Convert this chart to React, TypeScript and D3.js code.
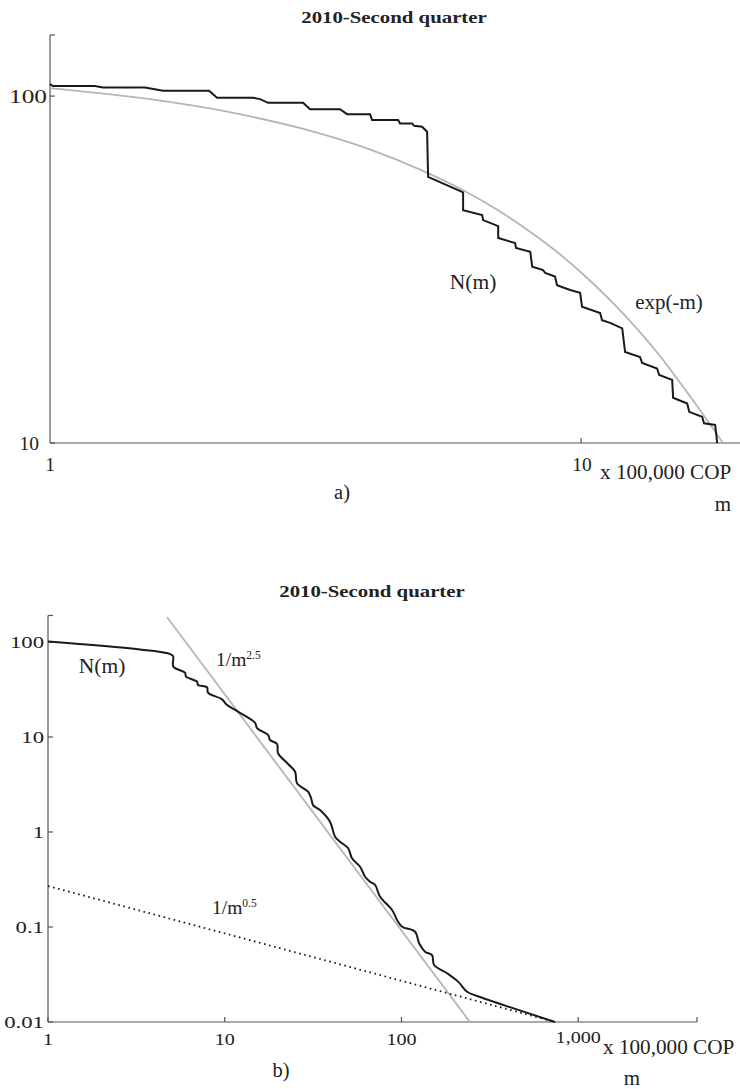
import * as d3 from 'd3';

const FONT = '"Liberation Serif", "Times New Roman", serif';
const W = 740;
const H = 1089;

// panel a) — cumulative count N(m), stepped empirical curve
const stepAM = [1, 1.013, 1.215, 1.258, 1.51, 1.632, 1.993, 2.063, 2.412, 2.486, 2.574, 2.996, 3.088, 3.516, 3.625, 4.005, 4.041, 4.523, 4.562, 4.806, 4.848, 5.018, 5.129, 5.151, 5.995, 5.995, 6.512, 6.539, 6.98, 6.98, 7.51, 7.54, 8.02, 8.09, 8.48, 8.56, 8.93, 9.01, 9.535, 9.957, 10.04, 10.86, 10.95, 11.34, 11.95, 12.1, 12.91, 13.03, 13.9, 14.03, 14.84, 14.9, 15.84, 15.98, 16.9, 17.04, 17.88, 18.04];
const stepAN = [108.3, 106.9, 106.9, 105.9, 105.9, 103.6, 103.6, 98.9, 98.9, 98.0, 95.6, 95.6, 91.7, 91.7, 88.7, 88.7, 85.3, 85.3, 83.4, 83.4, 82.1, 81.6, 78.9, 58.5, 52.8, 46.9, 45.4, 43.9, 42.2, 39.0, 37.7, 36.5, 35.6, 32.2, 31.5, 30.9, 30.2, 28.5, 27.6, 27.1, 24.7, 23.7, 22.6, 22.2, 21.4, 18.3, 17.7, 17.0, 16.4, 15.7, 15.2, 13.5, 13.0, 12.3, 11.9, 11.4, 11.27, 10.0];

// panel a) — exp(-m) reference curve
const expM = [1, 2, 3, 4, 5, 6, 7, 8, 9, 10, 12, 14, 16, 18.5];
const expN = [105.5, 92.1, 80.4, 70.2, 61.2, 53.5, 46.7, 40.7, 35.6, 31.0, 23.6, 18.0, 13.7, 10.0];

// panel b) — N(m) over the full range
const curveBM = [1, 3.23, 4.776, 5.097, 5.12, 5.96, 6.04, 6.97, 7.06, 7.94, 8.04, 9.65, 10.31, 11.89, 14.85, 15.23, 17.58, 18.05, 19.77, 20.03, 22.81, 25.0, 25.66, 29.6, 30.8, 31.6, 34.6, 39.4, 42.1, 44.9, 49.9, 52.5, 58.3, 62.2, 66.4, 70.9, 75.7, 88.5, 94.4, 100.8, 119.4, 125.8, 136.0, 149.0, 152.9, 181.2, 209.1, 235.1, 267.8, 740];
const curveBN = [101, 83.8, 76.0, 71.2, 55.0, 47.5, 43.1, 38.2, 35.3, 33.4, 29.3, 24.9, 21.7, 18.5, 14.1, 12.4, 10.5, 9.3, 8.44, 6.74, 5.2, 4.31, 3.26, 2.66, 2.28, 1.92, 1.7, 1.28, 0.892, 0.79, 0.674, 0.529, 0.431, 0.338, 0.3, 0.277, 0.208, 0.151, 0.1185, 0.1007, 0.0892, 0.0674, 0.055, 0.0507, 0.0398, 0.0326, 0.0266, 0.0208, 0.0188, 0.01];

// panel b) — power-law guide lines (end points)
const powA_M = [4.72, 244];
const powA_N = [182, 0.01];
const powB_M = [1, 740];
const powB_N = [0.27, 0.01];

const yTicksA = [100, 10];
const xTicksA = [1, 10];
const yTicksB = [100, 10, 1, 0.1, 0.01];
const yTickLabelsB = ['100', '10', '1', '0.1', '0.01'];
const xTicksB = [1, 10, 100, 1000];
const xTickLabelsB = ['1', '10', '100', '1,000'];

type Pt = [number, number];
const zip = (a: number[], b: number[]): Pt[] => a.map((v, i) => [v, b[i]]);

function T({ x, y, sx = 1, size, anchor = 'start', bold = false, children }: any) {
  return (
    <text
      transform={`translate(${x},${y}) scale(${sx},1)`}
      fontFamily={FONT}
      fontSize={size}
      fontWeight={bold ? 'bold' : 'normal'}
      textAnchor={anchor}
      fill="#222"
    >
      {children}
    </text>
  );
}

export default function App() {
  const xA = d3.scaleLog().domain([1, 20]).range([50, 741]);
  const yA = d3.scaleLog().domain([10, 150]).range([443, 35]);
  const xB = d3.scaleLog().domain([1, 4700]).range([48, 697]);
  const yB = d3.scaleLog().domain([0.01, 190]).range([1022, 615.5]);

  const lineA = d3.line<Pt>().x((d) => xA(d[0])).y((d) => yA(d[1]));
  const smoothA = d3.line<Pt>().x((d) => xA(d[0])).y((d) => yA(d[1])).curve(d3.curveMonotoneX);
  const lineB = d3.line<Pt>().x((d) => xB(d[0])).y((d) => yB(d[1]));
  const smoothB = d3.line<Pt>().x((d) => xB(d[0])).y((d) => yB(d[1])).curve(d3.curveCatmullRom.alpha(0.5));

  const axis = '#555';

  return (
    <svg width={W} height={H} style={{ position: 'absolute', left: 0, top: 0, background: '#fff' }}>
      {/* ---------- panel a ---------- */}
      <T x={394} y={23} size={17.5} sx={1.19} anchor="middle" bold>2010-Second quarter</T>

      <line x1={xA(1)} x2={741} y1={yA(10)} y2={yA(10)} stroke={axis} strokeWidth={1.2} />
      <line x1={xA(1)} x2={xA(1)} y1={yA(10)} y2={yA(150)} stroke={axis} strokeWidth={1.2} />
      {[...yTicksA, 150].map((t) => (
        <line key={t} x1={xA(1)} x2={xA(1) + 5} y1={yA(t)} y2={yA(t)} stroke={axis} strokeWidth={1.2} />
      ))}
      <line x1={xA(10)} x2={xA(10)} y1={yA(10)} y2={yA(10) - 5} stroke={axis} strokeWidth={1.2} />

      <T x={47} y={yA(100) + 7} size={19.5} sx={1.3} anchor="end">100</T>
      <T x={39} y={yA(10) + 7} size={19.5} anchor="end">10</T>
      {xTicksA.map((t) => (
        <T key={t} x={xA(t) + (t === 10 ? 1 : 0)} y={471} size={19.5} anchor="middle">{String(t)}</T>
      ))}
      <T x={600} y={479} size={21.2}>x 100,000 COP</T>
      <T x={723} y={511} size={21} anchor="middle">m</T>
      <T x={342} y={499} size={20.5} anchor="middle">a)</T>

      <path d={smoothA(zip(expM, expN)) ?? ''} fill="none" stroke="#b5b5b5" strokeWidth={1.8} />
      <path d={lineA(zip(stepAM, stepAN)) ?? ''} fill="none" stroke="#1a1a1a" strokeWidth={2} />

      <T x={473} y={289} size={21.5} anchor="middle">N(m)</T>
      <T x={669} y={309} size={21} anchor="middle">exp(-m)</T>

      {/* ---------- panel b ---------- */}
      <T x={372} y={597} size={17.5} sx={1.19} anchor="middle" bold>2010-Second quarter</T>

      <line x1={xB(1)} x2={xB(4700)} y1={yB(0.01)} y2={yB(0.01)} stroke={axis} strokeWidth={1.2} />
      <line x1={xB(1)} x2={xB(1)} y1={yB(0.01)} y2={yB(190)} stroke={axis} strokeWidth={1.2} />
      {[...yTicksB, 190].map((t) => (
        <line key={t} x1={xB(1)} x2={xB(1) + 5} y1={yB(t)} y2={yB(t)} stroke={axis} strokeWidth={1.2} />
      ))}
      {[...xTicksB, 4700].map((t) => (
        <line key={t} x1={xB(t)} x2={xB(t)} y1={yB(0.01)} y2={yB(0.01) - 5} stroke={axis} strokeWidth={1.2} />
      ))}

      {yTicksB.map((t, i) => (
        <T key={t} x={44} y={yB(t) + 6} size={17.5} sx={1.3} anchor="end">{yTickLabelsB[i]}</T>
      ))}
      {xTicksB.map((t, i) => (
        <T key={t} x={xB(t)} y={t === 1000 ? 1043 : 1045} size={17.5} sx={1.15} anchor="middle">{xTickLabelsB[i]}</T>
      ))}
      <T x={603} y={1054} size={21.2}>x 100,000 COP</T>
      <T x={632} y={1085} size={21} anchor="middle">m</T>
      <T x={281} y={1077} size={20.5} anchor="middle">b)</T>

      <path d={lineB(zip(powA_M, powA_N)) ?? ''} fill="none" stroke="#b5b5b5" strokeWidth={1.8} />
      <path d={lineB(zip(powB_M, powB_N)) ?? ''} fill="none" stroke="#1a1a1a" strokeWidth={1.8} strokeDasharray="1.6 3.6" />
      <path d={smoothB(zip(curveBM, curveBN)) ?? ''} fill="none" stroke="#1a1a1a" strokeWidth={2} />

      <T x={102} y={673} size={21.5} anchor="middle">N(m)</T>
      <text transform="translate(216,666)" fontFamily={FONT} fontSize={19.5} fill="#222">
        1/m<tspan fontSize={11.5} dy={-7}>2.5</tspan>
      </text>
      <text transform="translate(212,914)" fontFamily={FONT} fontSize={19.5} fill="#222">
        1/m<tspan fontSize={11.5} dy={-7}>0.5</tspan>
      </text>
    </svg>
  );
}
